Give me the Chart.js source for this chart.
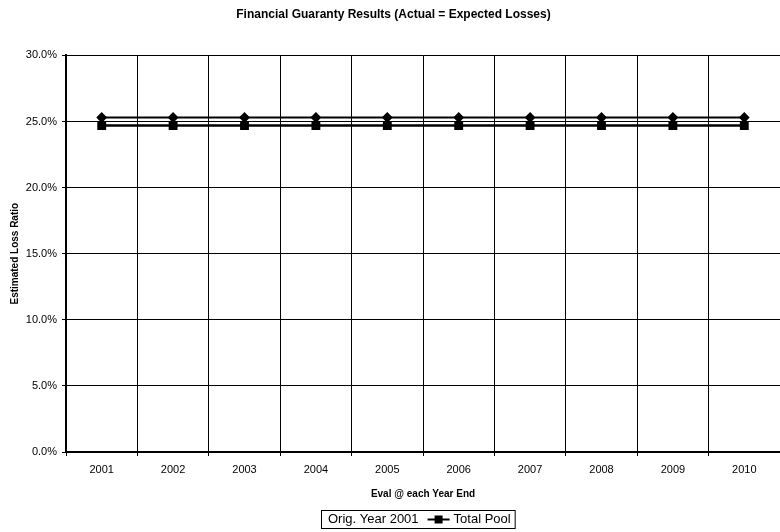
<!DOCTYPE html>
<html>
<head>
<meta charset="utf-8">
<script src="https://cdn.jsdelivr.net/npm/chart.js@4/dist/chart.umd.min.js"></script>
<style>
  html, body { margin: 0; background: #fff; overflow: hidden; }
  /* plot runs off the right edge of the window */
  #wrap { width: 787px; height: 532px; }
</style>
</head>
<body>
<div id="wrap"><canvas id="myChart"></canvas></div>
<script>
// evaluation years along the x axis
const years = ['2001', '2002', '2003', '2004', '2005', '2006', '2007', '2008', '2009', '2010'];
// estimated loss ratio (%) at each year end
const origYear2001 = [25.3, 25.3, 25.3, 25.3, 25.3, 25.3, 25.3, 25.3, 25.3, 25.3];
const totalPool = [24.7, 24.7, 24.7, 24.7, 24.7, 24.7, 24.7, 24.7, 24.7, 24.7];
// y axis range and step
const yMin = 0, yMax = 30, yStep = 5;

const FONT = "'Liberation Sans', Arial, sans-serif";

// boxed legend under the x axis title; first entry has no marker
const boxLegend = {
  id: 'boxLegend',
  afterDraw(chart) {
    const ctx = chart.ctx;
    const sets = chart.data.datasets;
    const top = 510, h = 18, left = 321;
    ctx.save();
    ctx.font = '13px ' + FONT;
    ctx.textBaseline = 'middle';
    ctx.fillStyle = '#000';
    let x = left + 7;
    const midY = top + h / 2 + 0.5;
    sets.forEach((ds, i) => {
      if (ds.legendMarker) {
        ctx.strokeStyle = '#000';
        ctx.lineWidth = 2;
        ctx.beginPath();
        ctx.moveTo(x, midY);
        ctx.lineTo(x + 22, midY);
        ctx.stroke();
        ctx.fillRect(x + 7, midY - 4, 8, 8);
        x += 26;
      }
      ctx.fillText(ds.label, x, midY);
      x += ctx.measureText(ds.label).width + (i < sets.length - 1 ? 9 : 4);
    });
    ctx.strokeStyle = '#000';
    ctx.lineWidth = 1;
    ctx.strokeRect(left + 0.5, top + 0.5, x - left, h);
    ctx.restore();
  }
};

new Chart(document.querySelector('#myChart'), {
  type: 'line',
  data: {
    labels: years,
    datasets: [
      {
        label: 'Orig. Year 2001',
        data: origYear2001,
        borderColor: '#000',
        backgroundColor: '#000',
        borderWidth: 2,
        pointStyle: 'rectRot',
        pointRadius: 4,
        fill: false,
        legendMarker: false
      },
      {
        label: 'Total Pool',
        data: totalPool,
        borderColor: '#000',
        backgroundColor: '#000',
        borderWidth: 2.5,
        pointStyle: 'rect',
        pointRadius: 4.5,
        fill: false,
        legendMarker: true
      }
    ]
  },
  options: {
    responsive: true,
    maintainAspectRatio: false,
    animation: false,
    layout: { padding: { left: 0, right: 0, top: 0, bottom: 30 } },
    plugins: {
      legend: { display: false },
      tooltip: { enabled: false },
      title: {
        display: true,
        text: 'Financial Guaranty Results (Actual = Expected Losses)',
        color: '#000',
        font: { family: FONT, size: 12, weight: 'bold' },
        padding: { top: 7, bottom: 34 }
      }
    },
    scales: {
      x: {
        offset: true,
        grid: { color: '#000', lineWidth: 1, offset: true, tickLength: 4 },
        border: { color: '#000', width: 1.5 },
        ticks: { color: '#000', font: { family: FONT, size: 11 }, padding: 7, maxRotation: 0 },
        title: {
          display: true,
          text: 'Eval @ each Year End',
          color: '#000',
          font: { family: FONT, size: 10, weight: 'bold' },
          padding: { top: 0, bottom: 2 }
        },
        afterFit(scale) { scale.height = 50; }
      },
      y: {
        min: yMin,
        max: yMax,
        grid: { color: '#000', lineWidth: 1, tickLength: 4 },
        border: { color: '#000', width: 2 },
        ticks: {
          stepSize: yStep,
          color: '#000',
          font: { family: FONT, size: 11 },
          padding: 5,
          callback: v => v.toFixed(1) + '%'
        },
        title: {
          display: true,
          text: 'Estimated Loss Ratio',
          color: '#000',
          font: { family: FONT, size: 10, weight: 'bold' },
          padding: { top: 9, bottom: 0 }
        },
        afterFit(scale) { scale.width = 66; }
      }
    }
  },
  plugins: [boxLegend]
});
</script>
</body>
</html>
